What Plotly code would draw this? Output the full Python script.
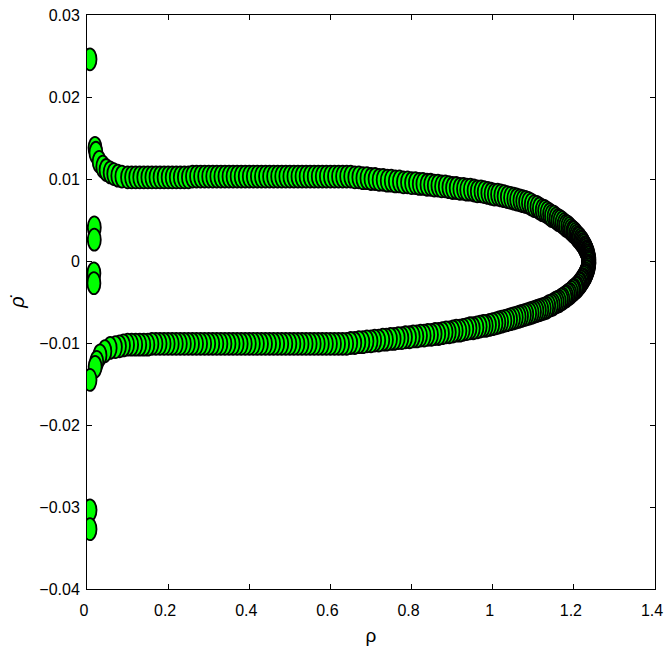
import plotly.graph_objects as go

# ---------------- data ----------------
# isolated points near rho ~ 0
rho_out = [0.0074, 0.018, 0.018, 0.017, 0.017, 0.0074, 0.0074]
rhodot_out = [0.0246, 0.0041, 0.0026, -0.0015, -0.0027, -0.0304, -0.0327]

# upper branch: initial curl
rho_curl_up = [0.0197, 0.022, 0.030, 0.039, 0.047, 0.057, 0.066, 0.076, 0.086]
rhodot_curl_up = [0.0138, 0.0132, 0.0121, 0.0115, 0.0111, 0.0108, 0.0106, 0.0104, 0.0103]

# upper branch: flat part
rho_flat_up = [0.10, 0.11, 0.12, 0.13, 0.14, 0.15, 0.16, 0.17, 0.18, 0.19,
               0.20, 0.21, 0.22, 0.23, 0.24, 0.25, 0.26, 0.27, 0.28, 0.29,
               0.30, 0.31, 0.32, 0.33, 0.34, 0.35, 0.36, 0.37, 0.38, 0.39,
               0.40, 0.41, 0.42, 0.43, 0.44, 0.45, 0.46, 0.47, 0.48, 0.49,
               0.50, 0.51, 0.52, 0.53, 0.54, 0.55, 0.56, 0.57, 0.58, 0.59,
               0.60, 0.61, 0.62, 0.63, 0.64, 0.65, 0.66, 0.67, 0.68, 0.69,
               0.70, 0.71, 0.72, 0.73, 0.74, 0.75, 0.76, 0.77, 0.78, 0.79, 0.80]
rhodot_flat_up = [0.0102, 0.0102, 0.0102, 0.0102, 0.0102, 0.0102, 0.0102, 0.0102, 0.0102, 0.0102,
                  0.0102, 0.0102, 0.0102, 0.0102, 0.0102, 0.0102, 0.0103, 0.0103, 0.0103, 0.0103,
                  0.0103, 0.0103, 0.0103, 0.0103, 0.0103, 0.0103, 0.0103, 0.0103, 0.0103, 0.0103,
                  0.0103, 0.0103, 0.0103, 0.0103, 0.0103, 0.0103, 0.0103, 0.0103, 0.0103, 0.0103,
                  0.0103, 0.0103, 0.0103, 0.0103, 0.0103, 0.0103, 0.0103, 0.0103, 0.0103, 0.0103,
                  0.0103, 0.0103, 0.0103, 0.0103, 0.0103, 0.0103, 0.0102, 0.0102, 0.0101, 0.0101,
                  0.0100, 0.0100, 0.0099, 0.0099, 0.0098, 0.0098, 0.0097, 0.0097, 0.0096, 0.0096, 0.0095]

# upper branch: bending towards the turning point
rho_bend_up = [0.8095, 0.819, 0.828, 0.838, 0.847, 0.856, 0.865, 0.874, 0.883, 0.892,
               0.901, 0.910, 0.919, 0.928, 0.936, 0.945, 0.954, 0.962, 0.971, 0.979,
               0.988, 0.996, 1.004, 1.012, 1.020, 1.028, 1.036, 1.044, 1.052, 1.059,
               1.067, 1.074, 1.081, 1.088, 1.095, 1.102, 1.109, 1.115, 1.122, 1.128,
               1.134, 1.140, 1.145, 1.151, 1.156, 1.161, 1.166, 1.171, 1.176, 1.180,
               1.185, 1.189, 1.193, 1.197, 1.200, 1.204, 1.207, 1.210, 1.213, 1.216,
               1.218, 1.221, 1.223, 1.225, 1.227, 1.229, 1.230, 1.232, 1.233, 1.234,
               1.235, 1.236, 1.236, 1.237, 1.237]
rhodot_bend_up = [0.0095, 0.0094, 0.0094, 0.0093, 0.0093, 0.0092, 0.0092, 0.0091, 0.0091, 0.0090,
                  0.0089, 0.0089, 0.0088, 0.0088, 0.0087, 0.0087, 0.0086, 0.0085, 0.0085, 0.0084,
                  0.0083, 0.0082, 0.0081, 0.0081, 0.0080, 0.0079, 0.0078, 0.0077, 0.0076, 0.0075,
                  0.0074, 0.0073, 0.0072, 0.0071, 0.0069, 0.0067, 0.0066, 0.0064, 0.0062, 0.0061,
                  0.0059, 0.0057, 0.0055, 0.0054, 0.0052, 0.0050, 0.0049, 0.0047, 0.0045, 0.0043,
                  0.0042, 0.0040, 0.0038, 0.0036, 0.0035, 0.0033, 0.0031, 0.0029, 0.0028, 0.0026,
                  0.0024, 0.0023, 0.0021, 0.0019, 0.0017, 0.0016, 0.0014, 0.0012, 0.0011, 0.0009,
                  0.0007, 0.0005, 0.0004, 0.0002, 0.0000]

# lower branch: from the turning point back to the left
rho_bend_lo = [1.237, 1.237, 1.236, 1.236, 1.235, 1.234, 1.233, 1.232, 1.230, 1.229,
               1.227, 1.225, 1.223, 1.221, 1.219, 1.216, 1.214, 1.211, 1.208, 1.205,
               1.201, 1.198, 1.194, 1.190, 1.186, 1.182, 1.178, 1.173, 1.169, 1.164,
               1.159, 1.154, 1.149, 1.144, 1.138, 1.133, 1.127, 1.121, 1.115, 1.109,
               1.103, 1.097, 1.091, 1.084, 1.078, 1.071, 1.065, 1.058, 1.051, 1.044,
               1.037, 1.030, 1.022, 1.015, 1.008, 1.000, 0.992, 0.984, 0.977, 0.969,
               0.961, 0.952, 0.944, 0.936, 0.927, 0.919, 0.910, 0.902, 0.893, 0.885,
               0.876, 0.867, 0.858, 0.849, 0.840, 0.831, 0.822, 0.813, 0.804, 0.795,
               0.785, 0.776, 0.767, 0.757, 0.748, 0.738, 0.729, 0.719, 0.709, 0.700,
               0.690, 0.680, 0.670, 0.660, 0.650]
rhodot_bend_lo = [-0.0002, -0.0003, -0.0005, -0.0007, -0.0008, -0.0010, -0.0012, -0.0013, -0.0015, -0.0017,
                  -0.0018, -0.0020, -0.0022, -0.0023, -0.0025, -0.0027, -0.0028, -0.0030, -0.0032, -0.0033,
                  -0.0035, -0.0036, -0.0038, -0.0040, -0.0041, -0.0043, -0.0044, -0.0046, -0.0047, -0.0049,
                  -0.0050, -0.0051, -0.0053, -0.0054, -0.0055, -0.0057, -0.0058, -0.0059, -0.0060, -0.0061,
                  -0.0062, -0.0063, -0.0064, -0.0065, -0.0066, -0.0067, -0.0068, -0.0069, -0.0070, -0.0071,
                  -0.0072, -0.0073, -0.0074, -0.0075, -0.0076, -0.0077, -0.0078, -0.0079, -0.0079, -0.0080,
                  -0.0081, -0.0082, -0.0082, -0.0083, -0.0084, -0.0085, -0.0085, -0.0086, -0.0087, -0.0087,
                  -0.0088, -0.0089, -0.0089, -0.0090, -0.0090, -0.0091, -0.0091, -0.0092, -0.0092, -0.0093,
                  -0.0093, -0.0094, -0.0094, -0.0095, -0.0095, -0.0096, -0.0096, -0.0097, -0.0097, -0.0098,
                  -0.0098, -0.0099, -0.0099, -0.0100, -0.0100]

# lower branch: flat part
rho_flat_lo = [0.64, 0.63, 0.62, 0.61, 0.60, 0.59, 0.58, 0.57, 0.56, 0.55,
               0.54, 0.53, 0.52, 0.51, 0.50, 0.49, 0.48, 0.47, 0.46, 0.45,
               0.44, 0.43, 0.42, 0.41, 0.40, 0.39, 0.38, 0.37, 0.36, 0.35,
               0.34, 0.33, 0.32, 0.31, 0.30, 0.29, 0.28, 0.27, 0.26, 0.25,
               0.24, 0.23, 0.22, 0.21, 0.20, 0.19, 0.18, 0.17, 0.16, 0.15,
               0.14, 0.13, 0.12, 0.11, 0.10, 0.09, 0.08, 0.07]
rhodot_flat_lo = [-0.0101, -0.0101, -0.0101, -0.0101, -0.0101, -0.0101, -0.0101, -0.0101, -0.0101, -0.0101,
                  -0.0101, -0.0101, -0.0101, -0.0101, -0.0101, -0.0101, -0.0101, -0.0101, -0.0101, -0.0101,
                  -0.0101, -0.0101, -0.0101, -0.0101, -0.0101, -0.0101, -0.0101, -0.0101, -0.0101, -0.0101,
                  -0.0101, -0.0101, -0.0101, -0.0101, -0.0101, -0.0101, -0.0101, -0.0101, -0.0101, -0.0101,
                  -0.0101, -0.0101, -0.0101, -0.0101, -0.0101, -0.0101, -0.0101, -0.0101, -0.0101, -0.0102,
                  -0.0102, -0.0102, -0.0102, -0.0102, -0.0102, -0.0103, -0.0104, -0.0105]

# lower branch: final curl near rho ~ 0
rho_curl_lo = [0.057, 0.044, 0.032, 0.024, 0.020, 0.0074]
rhodot_curl_lo = [-0.0106, -0.0110, -0.0115, -0.0123, -0.0129, -0.0145]

x_ticks = [0, 0.2, 0.4, 0.6, 0.8, 1.0, 1.2, 1.4]
x_tick_labels = ["0", "0.2", "0.4", "0.6", "0.8", "1", "1.2", "1.4"]
y_ticks = [-0.04, -0.03, -0.02, -0.01, 0, 0.01, 0.02, 0.03]
y_tick_labels = ["\u22120.04", "\u22120.03", "\u22120.02", "\u22120.01", "0", "0.01", "0.02", "0.03"]

# ---------------- assemble ----------------
rho = (rho_out[:1] + rho_curl_up + rho_flat_up + rho_bend_up + rho_bend_lo
       + rho_flat_lo + rho_curl_lo + rho_out[1:])
rhodot = (rhodot_out[:1] + rhodot_curl_up + rhodot_flat_up + rhodot_bend_up + rhodot_bend_lo
          + rhodot_flat_lo + rhodot_curl_lo + rhodot_out[1:])

# ---------------- layout / style ----------------
W, H = 664, 664
M_L, M_R, M_T, M_B = 87, 9, 15, 75
X_RANGE = [0, 1.4]
Y_RANGE = [-0.04, 0.03]
MARK_W_PX, MARK_H_PX = 13, 22
GREEN = "#00ff00"
FONT = "Liberation Sans, Arial, sans-serif"

plot_w = W - M_L - M_R
plot_h = H - M_T - M_B
hx = MARK_W_PX / 2 * (X_RANGE[1] - X_RANGE[0]) / plot_w
hy = MARK_H_PX / 2 * (Y_RANGE[1] - Y_RANGE[0]) / plot_h

fig = go.Figure()
fig.add_trace(go.Scatter(
    x=rho, y=rhodot, mode="markers",
    marker=dict(size=MARK_W_PX, color=GREEN, opacity=0),
    showlegend=False, hoverinfo="x+y",
))

shapes = []
for xv, yv in zip(rho, rhodot):
    shapes.append(dict(
        type="circle", xref="x", yref="y",
        x0=xv - hx, x1=xv + hx, y0=yv - hy, y1=yv + hy,
        fillcolor=GREEN, line=dict(color="black", width=1.8), layer="above",
    ))

fig.update_layout(
    width=W, height=H,
    margin=dict(l=M_L, r=M_R, t=M_T, b=M_B, autoexpand=False),
    paper_bgcolor="white", plot_bgcolor="white",
    font=dict(family=FONT, size=16, color="black"),
    shapes=shapes,
    showlegend=False,
)
fig.update_xaxes(
    range=X_RANGE, tickvals=x_ticks, ticktext=x_tick_labels,
    ticks="inside", ticklen=5, tickcolor="black", tickwidth=1,
    showline=True, linecolor="black", linewidth=1, mirror="ticks",
    showgrid=False, zeroline=False, automargin=False,
    ticklabeloverflow="allow", ticklabelstandoff=7, ticklabelshift=-3,
    title=dict(text="\u03c1", font=dict(family=FONT, size=19), standoff=10),
)
fig.update_yaxes(
    range=Y_RANGE, tickvals=y_ticks, ticktext=y_tick_labels,
    ticks="inside", ticklen=5, tickcolor="black", tickwidth=1,
    showline=True, linecolor="black", linewidth=1, mirror="ticks",
    showgrid=False, zeroline=False, automargin=False,
    ticklabeloverflow="allow", ticklabelstandoff=3,
    title=dict(text="<i>\u03c1\u0307</i>", font=dict(family=FONT, size=20), standoff=9),
)

fig.write_html(
    "out.html",
    config={"displayModeBar": False},
    post_script="document.body.style.margin='0px';document.body.style.overflow='hidden';",
)
